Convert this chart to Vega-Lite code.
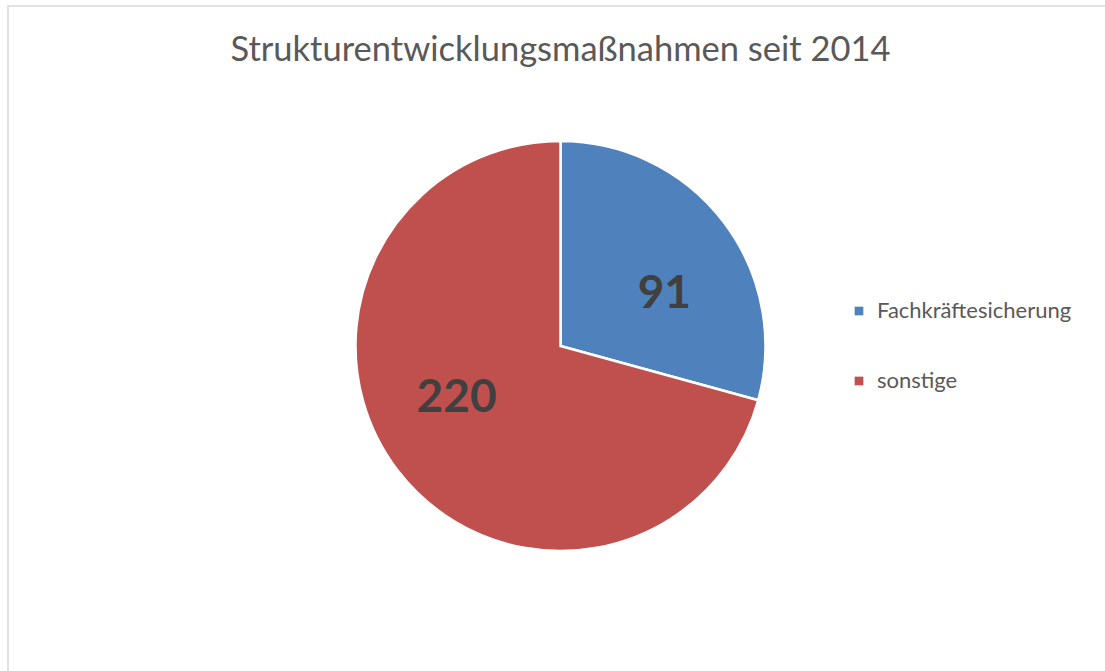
{
  "$schema": "https://vega.github.io/schema/vega-lite/v6.json",
  "width": 1105,
  "height": 680,
  "autosize": {"type": "none"},
  "padding": {"left": 8, "top": 6, "right": 0, "bottom": 0},
  "background": "#ffffff",
  "view": {"stroke": "#d9d9d9", "strokeWidth": 1.5},
  "title": {
    "text": "Strukturentwicklungsmaßnahmen seit 2014",
    "font": "Lato",
    "fontSize": 34.5,
    "fontWeight": "normal",
    "color": "#595959",
    "anchor": "middle",
    "offset": -62
  },
  "data": {
    "values": [
      {"kategorie": "Fachkräftesicherung", "anzahl": 91, "ord": 1},
      {"kategorie": "sonstige", "anzahl": 220, "ord": 2}
    ]
  },
  "encoding": {
    "theta": {"field": "anzahl", "type": "quantitative", "stack": true},
    "order": {"field": "ord", "type": "quantitative"}
  },
  "layer": [
    {
      "mark": {"type": "arc", "outerRadius": 205, "stroke": "#ffffff", "strokeWidth": 2.5},
      "encoding": {
        "color": {
          "field": "kategorie",
          "type": "nominal",
          "scale": {"domain": ["Fachkräftesicherung", "sonstige"], "range": ["#4F81BD", "#C0504D"]},
          "legend": {
            "title": null,
            "orient": "none",
            "legendX": 840,
            "legendY": 294,
            "symbolType": "square",
            "symbolSize": 75,
            "symbolStrokeWidth": 0,
            "labelFont": "Lato",
            "labelFontSize": 22,
            "labelColor": "#595959",
            "labelOffset": 7,
            "labelLimit": 400,
            "rowPadding": 48
          }
        }
      }
    },
    {
      "mark": {"type": "text", "radius": 116, "font": "Lato", "fontSize": 46, "fontWeight": "bold", "color": "#404040", "baseline": "middle", "align": "center"},
      "encoding": {
        "theta": {"field": "anzahl", "type": "quantitative", "stack": true, "scale": {"range": [0.19, 6.4732]}},
        "text": {"field": "anzahl", "type": "quantitative"}
      }
    }
  ],
  "resolve": {"scale": {"theta": "independent"}}
}
